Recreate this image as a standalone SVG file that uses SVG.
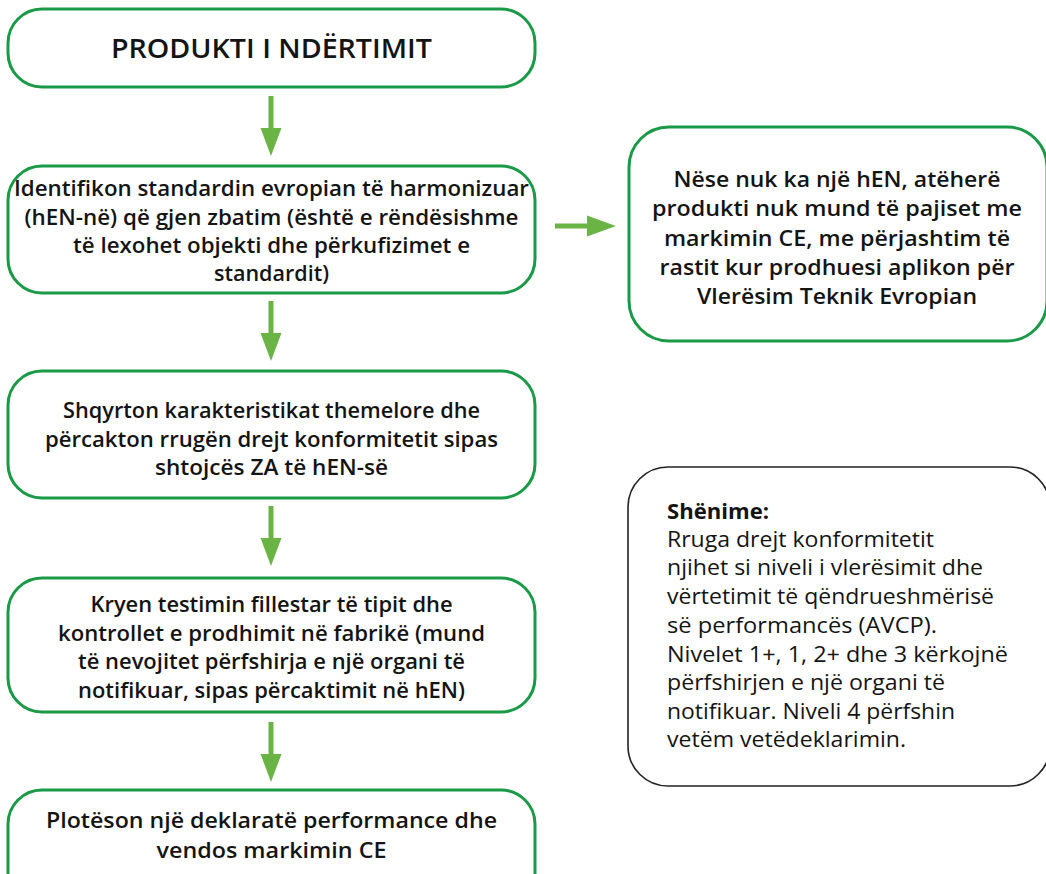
<svg xmlns="http://www.w3.org/2000/svg" width="1046" height="874" viewBox="0 0 1046 874">
<style>
.box{fill:#fff;stroke:#1a9a47;stroke-width:3}
.note{fill:#fff;stroke:#222;stroke-width:1.6}
.t{font-family:"Open Sans","Noto Sans",sans-serif;font-weight:600;font-size:22px;fill:#141414;text-anchor:middle}
.title{font-family:"Open Sans","Noto Sans",sans-serif;font-weight:600;font-size:27px;fill:#141414;text-anchor:middle}
.n{font-family:"Open Sans","Noto Sans",sans-serif;font-weight:400;font-size:22px;fill:#141414}
.nb{font-weight:700}
.arr{fill:#6ab446}
</style>
<defs>
<path id="down" d="M-2.5,0 H2.5 V32 H10.5 L0,60 L-10.5,32 H-2.5 Z"/>
</defs>
<g id="connectors">
<use href="#down" class="arr" x="271" y="96"/>
<use href="#down" class="arr" x="271" y="301"/>
<use href="#down" class="arr" x="271" y="506"/>
<use href="#down" class="arr" x="271" y="722"/>
<path class="arr" d="M555,223.5 H587 V215.5 L616,226 L587,236.5 V228.5 H555 Z"/>
</g>
<g id="node-produkti">
<rect class="box" x="8" y="9" width="527" height="78" rx="34"/>
<text class="title" x="271.5" y="57.5" textLength="321" lengthAdjust="spacingAndGlyphs">PRODUKTI I NDËRTIMIT</text>
</g>
<g id="node-identifikon">
<rect class="box" x="8" y="166" width="527" height="127" rx="34"/>
<text class="t" x="271.5" y="196" textLength="515" lengthAdjust="spacingAndGlyphs">Identifikon standardin evropian të harmonizuar</text>
<text class="t" x="271.5" y="225" textLength="494" lengthAdjust="spacingAndGlyphs">(hEN-në) që gjen zbatim (është e rëndësishme</text>
<text class="t" x="271.5" y="253" textLength="397" lengthAdjust="spacingAndGlyphs">të lexohet objekti dhe përkufizimet e</text>
<text class="t" x="271.5" y="281" textLength="115" lengthAdjust="spacingAndGlyphs">standardit)</text>
</g>
<g id="node-nese">
<rect class="box" x="629" y="127" width="418" height="214" rx="40"/>
<text class="t" x="837" y="187" textLength="327" lengthAdjust="spacingAndGlyphs">Nëse nuk ka një hEN, atëherë</text>
<text class="t" x="837" y="216" textLength="370" lengthAdjust="spacingAndGlyphs">produkti nuk mund të pajiset me</text>
<text class="t" x="837" y="246" textLength="346" lengthAdjust="spacingAndGlyphs">markimin CE, me përjashtim të</text>
<text class="t" x="837" y="275" textLength="355" lengthAdjust="spacingAndGlyphs">rastit kur prodhuesi aplikon për</text>
<text class="t" x="837" y="304" textLength="280" lengthAdjust="spacingAndGlyphs">Vlerësim Teknik Evropian</text>
</g>
<g id="node-shqyrton">
<rect class="box" x="8" y="371" width="527" height="127" rx="34"/>
<text class="t" x="271.5" y="418" textLength="417" lengthAdjust="spacingAndGlyphs">Shqyrton karakteristikat themelore dhe</text>
<text class="t" x="271.5" y="447" textLength="453" lengthAdjust="spacingAndGlyphs">përcakton rrugën drejt konformitetit sipas</text>
<text class="t" x="271.5" y="475" textLength="233" lengthAdjust="spacingAndGlyphs">shtojcës ZA të hEN-së</text>
</g>
<g id="node-kryen">
<rect class="box" x="8" y="578" width="527" height="134" rx="34"/>
<text class="t" x="271.5" y="612" textLength="362" lengthAdjust="spacingAndGlyphs">Kryen testimin fillestar të tipit dhe</text>
<text class="t" x="271.5" y="641" textLength="427" lengthAdjust="spacingAndGlyphs">kontrollet e prodhimit në fabrikë (mund</text>
<text class="t" x="271.5" y="669" textLength="387" lengthAdjust="spacingAndGlyphs">të nevojitet përfshirja e një organi të</text>
<text class="t" x="271.5" y="698" textLength="387" lengthAdjust="spacingAndGlyphs">notifikuar, sipas përcaktimit në hEN)</text>
</g>
<g id="node-ploteson">
<rect class="box" x="8" y="790" width="527" height="120" rx="34"/>
<text class="t" x="271.5" y="828" textLength="451" lengthAdjust="spacingAndGlyphs">Plotëson një deklaratë performance dhe</text>
<text class="t" x="271.5" y="858" textLength="230" lengthAdjust="spacingAndGlyphs">vendos markimin CE</text>
</g>
<g id="node-shenime">
<rect class="note" x="628" y="467" width="422" height="319" rx="40"/>
<text class="n nb" x="667" y="519" textLength="102" lengthAdjust="spacingAndGlyphs">Shënime:</text>
<text class="n" x="667" y="547" textLength="267" lengthAdjust="spacingAndGlyphs">Rruga drejt konformitetit</text>
<text class="n" x="667" y="575" textLength="316" lengthAdjust="spacingAndGlyphs">njihet si niveli i vlerësimit dhe</text>
<text class="n" x="667" y="604" textLength="327" lengthAdjust="spacingAndGlyphs">vërtetimit të qëndrueshmërisë</text>
<text class="n" x="667" y="633" textLength="270" lengthAdjust="spacingAndGlyphs">së performancës (AVCP).</text>
<text class="n" x="667" y="662" textLength="341" lengthAdjust="spacingAndGlyphs">Nivelet 1+, 1, 2+ dhe 3 kërkojnë</text>
<text class="n" x="667" y="690" textLength="278" lengthAdjust="spacingAndGlyphs">përfshirjen e një organi të</text>
<text class="n" x="667" y="719" textLength="288" lengthAdjust="spacingAndGlyphs">notifikuar. Niveli 4 përfshin</text>
<text class="n" x="667" y="747" textLength="239" lengthAdjust="spacingAndGlyphs">vetëm vetëdeklarimin.</text>
</g>
</svg>
